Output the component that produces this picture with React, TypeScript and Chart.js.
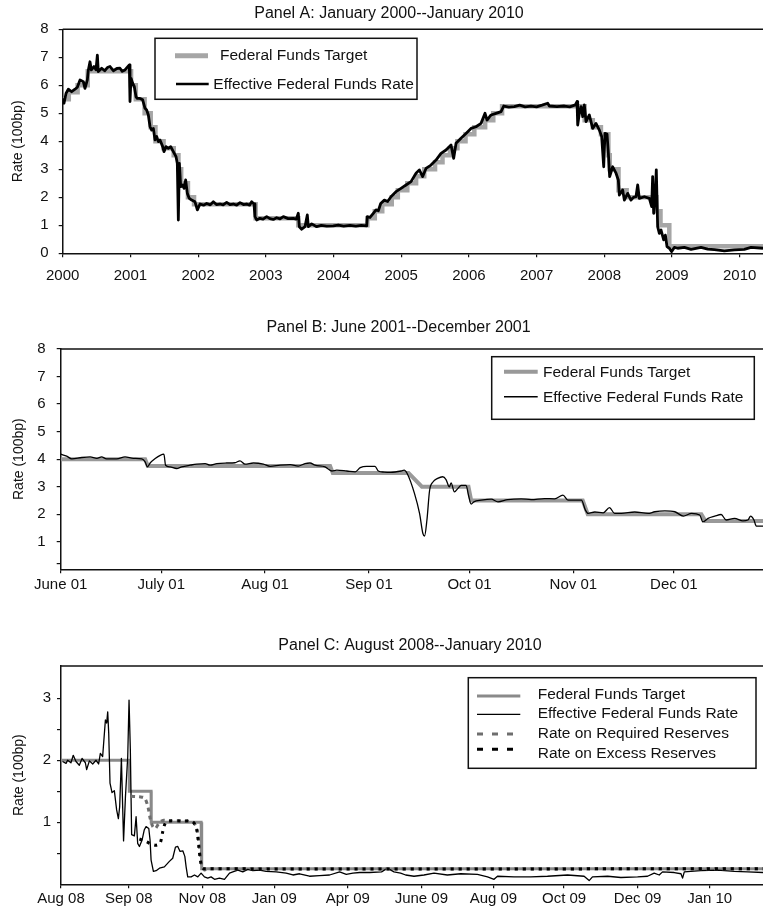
import React, { useEffect, useRef } from "react";
import { Chart, registerables } from "chart.js";

Chart.register(...registerables);

const FONT = '"Liberation Sans", Arial, Helvetica, sans-serif';
const INK = "#111111";

// ---------------- Panel A: January 2000 -- January 2010 (x in decimal years) ----------------
const yearTicksA = [2000, 2001, 2002, 2003, 2004, 2005, 2006, 2007, 2008, 2009, 2010];
const yearLabelsA = ["2000", "2001", "2002", "2003", "2004", "2005", "2006", "2007", "2008", "2009", "2010"];
const rateTicksA = [0, 1, 2, 3, 4, 5, 6, 7, 8];
const rateLabelsA = ["0", "1", "2", "3", "4", "5", "6", "7", "8"];

const targetDatesA = [
  2000.0, 2000.09, 2000.22, 2000.37, 2001.01, 2001.08, 2001.21, 2001.3, 2001.37, 2001.49,
  2001.64, 2001.71, 2001.75, 2001.85, 2001.94, 2002.85, 2003.48, 2004.5, 2004.61, 2004.72,
  2004.86, 2004.95, 2005.09, 2005.22, 2005.34, 2005.5, 2005.61, 2005.72, 2005.83, 2005.95,
  2006.08, 2006.24, 2006.36, 2006.49, 2007.71, 2007.83, 2007.95, 2008.06, 2008.08, 2008.21,
  2008.33, 2008.77, 2008.83, 2008.96, 2010.4,
];
const targetRatesA = [
  5.5, 5.75, 6.0, 6.5, 6.0, 5.5, 5.0, 4.5, 4.0, 3.75,
  3.5, 3.0, 2.5, 2.0, 1.75, 1.25, 1.0, 1.25, 1.5, 1.75,
  2.0, 2.25, 2.5, 2.75, 3.0, 3.25, 3.5, 3.75, 4.0, 4.25,
  4.5, 4.75, 5.0, 5.25, 4.75, 4.5, 4.25, 3.5, 3.0, 2.25,
  2.0, 1.5, 1.0, 0.25, 0.25,
];

const effectiveA: [number, number][] = [
  [2000.0, 5.53], [2000.019, 5.36], [2000.049, 5.71], [2000.083, 5.86], [2000.132, 5.77], [2000.182, 5.86],
  [2000.216, 5.93], [2000.256, 6.19], [2000.305, 6.13], [2000.329, 5.89], [2000.364, 6.19], [2000.379, 6.55],
  [2000.403, 6.84], [2000.423, 6.55], [2000.462, 6.67], [2000.492, 6.55], [2000.512, 7.08], [2000.526, 6.49],
  [2000.576, 6.61], [2000.62, 6.52], [2000.66, 6.63], [2000.699, 6.67], [2000.748, 6.52], [2000.8, 6.6],
  [2000.846, 6.61], [2000.88, 6.5], [2000.92, 6.55], [2000.984, 6.73], [2000.994, 5.42], [2001.009, 6.25],
  [2001.034, 6.07], [2001.058, 5.95], [2001.083, 5.59], [2001.102, 5.53], [2001.142, 5.53], [2001.181, 5.48],
  [2001.216, 5.18], [2001.24, 5.12], [2001.265, 4.94], [2001.29, 4.52], [2001.314, 4.4], [2001.339, 4.46],
  [2001.363, 4.05], [2001.388, 4.17], [2001.413, 3.99], [2001.437, 4.05], [2001.477, 3.81], [2001.496, 3.63],
  [2001.526, 3.81], [2001.56, 3.75], [2001.595, 3.81], [2001.634, 3.63], [2001.674, 3.45], [2001.693, 3.21],
  [2001.708, 1.19], [2001.723, 3.21], [2001.743, 2.38], [2001.772, 2.44], [2001.792, 2.32], [2001.816, 2.62],
  [2001.841, 2.14], [2001.87, 1.96], [2001.905, 1.9], [2001.954, 1.84], [2001.989, 1.55], [2002.028, 1.76],
  [2002.08, 1.72], [2002.127, 1.78], [2002.18, 1.73], [2002.225, 1.84], [2002.27, 1.74], [2002.323, 1.76],
  [2002.37, 1.73], [2002.422, 1.82], [2002.47, 1.74], [2002.52, 1.76], [2002.57, 1.72], [2002.619, 1.81],
  [2002.67, 1.74], [2002.717, 1.76], [2002.76, 1.72], [2002.791, 1.84], [2002.826, 1.76], [2002.84, 1.31],
  [2002.865, 1.19], [2002.914, 1.25], [2002.96, 1.22], [2003.013, 1.31], [2003.06, 1.24], [2003.111, 1.21],
  [2003.16, 1.27], [2003.21, 1.23], [2003.259, 1.31], [2003.33, 1.24], [2003.407, 1.25], [2003.45, 1.22],
  [2003.48, 1.43], [2003.495, 0.95], [2003.53, 0.86], [2003.579, 0.95], [2003.613, 1.37], [2003.628, 0.95],
  [2003.678, 1.05], [2003.751, 0.95], [2003.82, 1.0], [2003.9, 0.97], [2003.997, 0.98], [2004.07, 1.01],
  [2004.15, 0.97], [2004.244, 1.0], [2004.33, 0.97], [2004.41, 1.0], [2004.49, 0.98], [2004.5, 1.31],
  [2004.539, 1.28], [2004.588, 1.43], [2004.628, 1.55], [2004.662, 1.52], [2004.697, 1.78], [2004.751, 1.9],
  [2004.8, 1.85], [2004.849, 2.02], [2004.923, 2.2], [2004.997, 2.32], [2005.071, 2.44], [2005.145, 2.56],
  [2005.219, 2.86], [2005.268, 2.98], [2005.317, 2.74], [2005.366, 3.03], [2005.44, 3.15], [2005.514, 3.33],
  [2005.588, 3.57], [2005.662, 3.69], [2005.736, 3.87], [2005.775, 3.39], [2005.81, 3.93], [2005.883, 4.11],
  [2005.957, 4.28], [2006.031, 4.46], [2006.105, 4.52], [2006.179, 4.64], [2006.238, 5.0], [2006.268, 4.76],
  [2006.327, 4.94], [2006.401, 5.0], [2006.475, 5.06], [2006.514, 5.26], [2006.59, 5.22], [2006.671, 5.24],
  [2006.75, 5.29], [2006.83, 5.23], [2006.917, 5.26], [2007.0, 5.23], [2007.08, 5.29], [2007.164, 5.36],
  [2007.188, 5.26], [2007.3, 5.24], [2007.41, 5.26], [2007.49, 5.23], [2007.572, 5.3], [2007.597, 5.42],
  [2007.607, 4.58], [2007.631, 5.0], [2007.656, 5.24], [2007.681, 4.88], [2007.705, 5.3], [2007.73, 4.7],
  [2007.779, 4.94], [2007.828, 4.46], [2007.877, 4.64], [2007.927, 4.4], [2007.961, 4.17], [2007.991, 3.09],
  [2008.01, 4.28], [2008.04, 4.26], [2008.06, 3.57], [2008.079, 2.74], [2008.124, 3.09], [2008.173, 2.86],
  [2008.207, 2.62], [2008.222, 2.08], [2008.271, 2.26], [2008.296, 1.9], [2008.345, 2.14], [2008.394, 1.9],
  [2008.43, 2.0], [2008.468, 2.02], [2008.493, 2.44], [2008.517, 1.96], [2008.591, 2.02], [2008.665, 1.96],
  [2008.7, 1.67], [2008.714, 2.74], [2008.729, 1.43], [2008.749, 1.9], [2008.768, 2.98], [2008.788, 0.95],
  [2008.813, 0.71], [2008.838, 0.83], [2008.877, 0.48], [2008.902, 0.65], [2008.926, 0.24], [2008.961, 0.18],
  [2008.995, 0.06], [2009.034, 0.21], [2009.084, 0.18], [2009.182, 0.21], [2009.281, 0.14], [2009.428, 0.21],
  [2009.527, 0.15], [2009.625, 0.13], [2009.773, 0.09], [2009.921, 0.12], [2010.068, 0.14], [2010.167, 0.21],
  [2010.344, 0.18],
];

// ---------------- Panel B: June 2001 -- December 2001 (x in days since 1 June 2001) ----------------
const dayTicksB = [0, 30, 61, 92, 122, 153, 183];
const dayLabelsB = ["June 01", "July 01", "Aug 01", "Sep 01", "Oct 01", "Nov 01", "Dec 01"];
const rateTicksB = [0.2, 1, 2, 3, 4, 5, 6, 7, 8];
const rateLabelsB = ["", "1", "2", "3", "4", "5", "6", "7", "8"];

const targetB: [number, number][] = [
  [0, 4], [25.2, 4], [26.0, 3.75], [80.4, 3.75], [81.2, 3.5], [103.8, 3.5], [107.8, 3.0],
  [121.7, 3.0], [122.5, 2.5], [155.8, 2.5], [157.3, 2.0], [191.2, 2.0], [192.4, 1.75], [210, 1.75],
];

const effectiveB: [number, number][] = [
  [0, 4.18], [1.8, 4.11], [3.3, 4.01], [6.3, 4.06], [8.8, 4.08], [10.8, 4.03], [12.2, 4.08], [13.7, 4.01],
  [16.7, 4.01], [19.2, 4.08], [21.7, 4.03], [24.2, 4.01], [25.2, 3.9], [25.9, 3.72], [26.7, 3.86], [28.2, 4.02],
  [29.7, 4.14], [30.8, 4.18], [31.3, 3.78], [32.6, 3.72], [34.6, 3.66], [36.1, 3.72], [38.6, 3.78], [40.6, 3.82],
  [43.1, 3.84], [44.6, 3.78], [46.6, 3.84], [49.5, 3.86], [52, 3.87], [53.5, 3.94], [55, 3.82], [57.5, 3.86],
  [60.5, 3.82], [62.5, 3.74], [65.5, 3.78], [68.5, 3.8], [70.9, 3.75], [72.9, 3.84], [74.4, 3.86], [75.9, 3.78],
  [78.9, 3.72], [80.9, 3.57], [82.4, 3.6], [85.4, 3.57], [87.9, 3.54], [89.4, 3.69], [91.3, 3.74], [93.8, 3.74],
  [94.8, 3.57], [96.5, 3.53], [98.5, 3.52], [101.6, 3.57], [102.5, 3.6], [103.4, 3.48], [105.6, 2.75],
  [107.1, 2.03], [108.1, 1.3], [108.6, 1.21], [109.3, 1.79], [110.1, 2.87], [111.1, 3.17], [112.5, 3.3],
  [114, 3.36], [115, 3.26], [116, 2.99], [116.5, 3.14], [117.5, 2.81], [118.5, 2.93], [119.5, 3.05], [121, 3.05],
  [121.7, 2.69], [122.5, 2.37], [123.3, 2.45], [125.5, 2.51], [128.5, 2.55], [130.5, 2.45], [133.4, 2.53],
  [137.4, 2.56], [140.4, 2.53], [144.4, 2.57], [147.4, 2.56], [149.9, 2.69], [151.4, 2.51], [155.4, 2.51],
  [156.6, 2.15], [157.4, 2.03], [159.4, 2.08], [161.9, 2.05], [163.8, 2.24], [165.3, 2.03], [167.3, 2.03],
  [171.3, 2.08], [175.3, 2.03], [177.3, 2.09], [180.3, 2.12], [183.3, 2.09], [185.8, 1.93], [188.3, 2.03],
  [190.7, 1.97], [191.7, 1.72], [193.2, 1.85], [195.2, 1.93], [197.1, 1.99], [198.6, 1.79], [201.1, 1.85],
  [203.6, 1.76], [205.1, 1.79], [205.9, 1.93], [206.9, 1.79], [207.6, 1.57], [209.7, 1.57],
];

// ---------------- Panel C: August 2008 -- January 2010 (x in observation index) ----------------
const obsTicksC = [0, 47, 98, 148, 199, 250, 300, 349, 400, 450];
const obsLabelsC = ["Aug 08", "Sep 08", "Nov 08", "Jan 09", "Apr 09", "June 09", "Aug 09", "Oct 09", "Dec 09", "Jan 10"];
const rateTicksC = [0.5, 1, 1.5, 2, 2.5, 3];
const rateLabelsC = ["", "1", "", "2", "", "3"];

const targetC: [number, number][] = [
  [0, 2], [47.3, 2], [47.4, 1.5], [62.5, 1.5], [62.6, 1.0], [97.2, 1.0], [97.6, 0.25], [487, 0.25],
];

const requiredC: [number, number][] = [
  [48.6, 1.42], [54.4, 1.41], [58, 1.39], [60.3, 1.25], [61.9, 1.06], [63.7, 0.93], [65.5, 0.9], [67.8, 0.98],
  [70.6, 1.03], [75.2, 1.02], [84.5, 1.02], [91.4, 1.0], [93.7, 0.93], [95.4, 0.71], [96.7, 0.45], [97.9, 0.28],
  [99.5, 0.23], [101.8, 0.25], [487, 0.25],
];

const excessC: [number, number][] = [
  [54.4, 0.73], [59, 0.69], [62.5, 0.65], [65.9, 0.63], [68.7, 0.66], [70.6, 0.85], [72.2, 0.98], [74.1, 1.02],
  [84.5, 1.02], [91.4, 1.01], [94.2, 0.88], [95.6, 0.61], [96.7, 0.39], [97.9, 0.27], [99.5, 0.25], [487, 0.25],
];

const effectiveC: [number, number][] = [
  [1.1, 1.98], [3.5, 1.95], [4.6, 2.0], [6.9, 1.96], [8.5, 2.08], [10.4, 1.98], [12.7, 1.92], [14.6, 2.03],
  [16.9, 1.96], [17.8, 1.85], [19.7, 1.99], [22, 1.94], [24.3, 2.0], [26.1, 1.94], [27.3, 2.11], [28.9, 2.06],
  [30.8, 2.65], [31.7, 2.6], [32.4, 2.78], [33.1, 2.44], [34, 1.63], [35.4, 1.48], [37, 1.51], [38.6, 1.2],
  [39.8, 1.06], [40.7, 1.25], [41.9, 2.03], [43.4, 0.7], [44.7, 1.41], [46.3, 2.06], [47.2, 2.97], [48.1, 2.17],
  [49, 0.8], [50.9, 0.78], [52.1, 1.09], [53.2, 0.66], [54.4, 0.61], [56.2, 0.71], [57.8, 0.88], [59, 0.93],
  [60.9, 0.9], [61.8, 0.71], [62.5, 0.39], [64.1, 0.21], [66, 0.22], [68.3, 0.26], [71.7, 0.28], [75.2, 0.37],
  [77.5, 0.42], [79.4, 0.6], [81, 0.61], [82.6, 0.53], [84.5, 0.54], [85.9, 0.45], [86.8, 0.28], [87.9, 0.12],
  [90.3, 0.12], [92.6, 0.15], [94.9, 0.12], [97.2, 0.18], [99.5, 0.12], [101.8, 0.1], [104.1, 0.12],
  [106.5, 0.08], [109.9, 0.1], [113.4, 0.08], [116.9, 0.18], [119.2, 0.2], [122.7, 0.23], [126.1, 0.2],
  [129.6, 0.24], [133.1, 0.22], [137.7, 0.23], [142.3, 0.21], [149.3, 0.2], [156.2, 0.18], [160.9, 0.15],
  [165.5, 0.17], [172.4, 0.13], [179.4, 0.14], [186.3, 0.15], [193.3, 0.2], [197.9, 0.16], [202.5, 0.18],
  [207.2, 0.19], [214.1, 0.19], [222.4, 0.2], [226.4, 0.26], [231, 0.2], [235.6, 0.18], [239.1, 0.15],
  [244.9, 0.13], [251.8, 0.15], [258.8, 0.18], [268, 0.15], [277.3, 0.17], [288.9, 0.16], [295.9, 0.12],
  [300.4, 0.08], [302.8, 0.13], [314.3, 0.12], [325.9, 0.12], [337.5, 0.13], [351.4, 0.15], [362.9, 0.13],
  [366.4, 0.06], [368.7, 0.12], [379.2, 0.13], [388.4, 0.11], [400, 0.12], [406.9, 0.13], [411.5, 0.18],
  [415, 0.15], [417.3, 0.2], [425.4, 0.19], [430.1, 0.17], [431.2, 0.1], [432.4, 0.2], [443.9, 0.22],
  [455.5, 0.23], [467.1, 0.21], [476.4, 0.2], [487, 0.19],
];

// ---------------- helpers ----------------
const pts = (arr: [number, number][]) => arr.map(([x, y]) => ({ x, y }));
const stepPts = (xs: number[], ys: number[]) => xs.map((x, i) => ({ x, y: ys[i] }));

type LegendItem = { ds: number; x1: number; x2: number; y: number; tx: number; ty: number; width?: number; dash?: number[] };
type PanelSpec = {
  top: number;
  height: number;
  title: string;
  titleX: number;
  titleY: number;
  left: number;
  areaTop: number;
  areaBottom: number;
  xMin: number;
  xMax: number;
  xTicks: number[];
  xLabels: string[];
  xPad: number;
  yMin: number;
  yMax: number;
  yTicks: number[];
  yLabels: string[];
  yPad: number;
  yTitlePad: number;
  datasets: any[];
  legendBox: [number, number, number, number];
  legendItems: LegendItem[];
};

function makeConfig(spec: PanelSpec): any {
  const overlay = {
    id: "panelOverlay",
    afterDraw(chart: any) {
      const ctx = chart.ctx as CanvasRenderingContext2D;
      const a = chart.chartArea;
      ctx.save();
      // top frame line
      ctx.strokeStyle = INK;
      ctx.lineWidth = 1.5;
      ctx.beginPath();
      ctx.moveTo(a.left, a.top);
      ctx.lineTo(a.right, a.top);
      ctx.stroke();
      // panel title
      ctx.fillStyle = INK;
      ctx.font = `16px ${FONT}`;
      ctx.textAlign = "center";
      ctx.textBaseline = "middle";
      ctx.fillText(spec.title, spec.titleX, spec.titleY);
      // legend
      const [bx1, by1, bx2, by2] = spec.legendBox;
      ctx.fillStyle = "#ffffff";
      ctx.fillRect(bx1, by1, bx2 - bx1, by2 - by1);
      ctx.strokeStyle = INK;
      ctx.lineWidth = 1.5;
      ctx.strokeRect(bx1, by1, bx2 - bx1, by2 - by1);
      ctx.font = `15.5px ${FONT}`;
      ctx.textAlign = "left";
      ctx.textBaseline = "middle";
      for (const it of spec.legendItems) {
        const ds = chart.data.datasets[it.ds];
        ctx.save();
        ctx.strokeStyle = ds.borderColor;
        ctx.lineWidth = it.width ?? ds.borderWidth;
        ctx.setLineDash(it.dash ?? []);
        ctx.lineCap = "butt";
        ctx.beginPath();
        ctx.moveTo(it.x1, it.y);
        ctx.lineTo(it.x2, it.y);
        ctx.stroke();
        ctx.restore();
        ctx.fillStyle = INK;
        ctx.fillText(ds.label, it.tx, it.ty);
      }
      ctx.restore();
    },
  };

  const tickFont = { family: FONT, size: 15 };
  return {
    type: "line",
    data: { datasets: spec.datasets },
    options: {
      responsive: false,
      maintainAspectRatio: false,
      animation: false,
      events: [],
      layout: { padding: { top: spec.areaTop, left: 0, right: 0, bottom: 0 } },
      elements: { point: { radius: 0, hoverRadius: 0 } },
      plugins: { legend: { display: false }, tooltip: { enabled: false }, title: { display: false } },
      scales: {
        x: {
          type: "linear",
          min: spec.xMin,
          max: spec.xMax,
          afterBuildTicks: (s: any) => {
            s.ticks = spec.xTicks.map((v) => ({ value: v }));
          },
          afterFit: (s: any) => {
            s.height = spec.height - spec.areaBottom;
            s.paddingLeft = 0;
            s.paddingRight = 0;
          },
          ticks: {
            autoSkip: false,
            maxRotation: 0,
            minRotation: 0,
            padding: spec.xPad,
            color: INK,
            font: tickFont,
            callback: (_v: number, i: number) => spec.xLabels[i] ?? "",
          },
          grid: { drawOnChartArea: false, drawTicks: true, tickLength: 4, color: INK, lineWidth: 1.2 },
          border: { display: true, color: INK, width: 1.5 },
        },
        y: {
          type: "linear",
          min: spec.yMin,
          max: spec.yMax,
          afterBuildTicks: (s: any) => {
            s.ticks = spec.yTicks.map((v) => ({ value: v }));
          },
          afterFit: (s: any) => {
            s.width = spec.left;
            s.paddingTop = 0;
            s.paddingBottom = 0;
          },
          ticks: {
            padding: spec.yPad,
            color: INK,
            font: tickFont,
            callback: (_v: number, i: number) => spec.yLabels[i] ?? "",
          },
          title: {
            display: true,
            text: "Rate (100bp)",
            color: INK,
            font: { family: FONT, size: 14 },
            padding: { top: spec.yTitlePad, bottom: 0 },
          },
          grid: { drawOnChartArea: false, drawTicks: true, tickLength: 4, color: INK, lineWidth: 1.2 },
          border: { display: true, color: INK, width: 1.5 },
        },
      },
    },
    plugins: [overlay],
  };
}

const specA: PanelSpec = {
  top: 0,
  height: 300,
  title: "Panel A: January 2000--January 2010",
  titleX: 389,
  titleY: 13.5,
  left: 62.7,
  areaTop: 29.3,
  areaBottom: 253.3,
  xMin: 2000,
  xMax: 2010.344,
  xTicks: yearTicksA,
  xLabels: yearLabelsA,
  xPad: 10,
  yMin: 0,
  yMax: 8,
  yTicks: rateTicksA,
  yLabels: rateLabelsA,
  yPad: 10,
  yTitlePad: 10,
  datasets: [
    {
      label: "Federal Funds Target",
      data: stepPts(targetDatesA, targetRatesA),
      borderColor: "#a6a6a6",
      borderWidth: 4.5,
      stepped: "before",
      order: 2,
    },
    {
      label: "Effective Federal Funds Rate",
      data: pts(effectiveA),
      borderColor: "#000000",
      borderWidth: 2.8,
      borderJoinStyle: "round",
      tension: 0,
      order: 1,
    },
  ],
  legendBox: [155, 38.3, 417, 99.3],
  legendItems: [
    { ds: 0, x1: 175, x2: 208, y: 55.7, tx: 220, ty: 56, width: 5 },
    { ds: 1, x1: 176, x2: 208.7, y: 84, tx: 213.3, ty: 84.5, width: 2.5 },
  ],
};

const specB: PanelSpec = {
  top: 300,
  height: 310,
  title: "Panel B: June 2001--December 2001",
  titleX: 398.5,
  titleY: 28,
  left: 60.7,
  areaTop: 49,
  areaBottom: 269.3,
  xMin: 0,
  xMax: 209.6,
  xTicks: dayTicksB,
  xLabels: dayLabelsB,
  xPad: 3,
  yMin: 0,
  yMax: 8,
  yTicks: rateTicksB,
  yLabels: rateLabelsB,
  yPad: 11,
  yTitlePad: 11,
  datasets: [
    {
      label: "Federal Funds Target",
      data: pts(targetB),
      borderColor: "#999999",
      borderWidth: 4,
      order: 2,
    },
    {
      label: "Effective Federal Funds Rate",
      data: pts(effectiveB),
      borderColor: "#000000",
      borderWidth: 1.3,
      cubicInterpolationMode: "monotone",
      order: 1,
    },
  ],
  legendBox: [491.7, 56.7, 754.3, 119.3],
  legendItems: [
    { ds: 0, x1: 504, x2: 537.7, y: 71.7, tx: 543, ty: 72.5 },
    { ds: 1, x1: 504, x2: 537.7, y: 96.7, tx: 543, ty: 97.5, width: 1.6 },
  ],
};

const specC: PanelSpec = {
  top: 610,
  height: 299,
  title: "Panel C: August 2008--January 2010",
  titleX: 410,
  titleY: 36,
  left: 61,
  areaTop: 56,
  areaBottom: 274.3,
  xMin: 0,
  xMax: 487,
  xTicks: obsTicksC,
  xLabels: obsLabelsC,
  xPad: 2,
  yMin: 0,
  yMax: 3.52,
  yTicks: rateTicksC,
  yLabels: rateLabelsC,
  yPad: 6,
  yTitlePad: 11,
  datasets: [
    {
      label: "Federal Funds Target",
      data: pts(targetC),
      borderColor: "#8a8a8a",
      borderWidth: 3,
      order: 4,
    },
    {
      label: "Effective Federal Funds Rate",
      data: pts(effectiveC),
      borderColor: "#000000",
      borderWidth: 1.3,
      borderJoinStyle: "round",
      order: 3,
    },
    {
      label: "Rate on Required Reserves",
      data: pts(requiredC),
      borderColor: "#6e6e6e",
      borderWidth: 3,
      borderDash: [4, 4],
      tension: 0.3,
      order: 2,
    },
    {
      label: "Rate on Excess Reserves",
      data: pts(excessC),
      borderColor: "#000000",
      borderWidth: 3,
      borderDash: [3, 5],
      tension: 0.3,
      order: 1,
    },
  ],
  legendBox: [468.3, 67.7, 756, 158.3],
  legendItems: [
    { ds: 0, x1: 477, x2: 520.3, y: 86, tx: 537.7, ty: 85 },
    { ds: 1, x1: 477, x2: 520.3, y: 104.3, tx: 537.7, ty: 104 },
    { ds: 2, x1: 477, x2: 520.3, y: 124, tx: 537.7, ty: 123.5, dash: [6, 9] },
    { ds: 3, x1: 477, x2: 520.3, y: 139.3, tx: 537.7, ty: 144, dash: [6, 9] },
  ],
};

function Panel({ spec }: { spec: PanelSpec }) {
  const ref = useRef<HTMLCanvasElement | null>(null);
  useEffect(() => {
    if (!ref.current) return;
    const chart = new Chart(ref.current, makeConfig(spec));
    return () => chart.destroy();
  }, [spec]);
  return (
    <canvas
      ref={ref}
      width={763}
      height={spec.height}
      style={{ position: "absolute", left: 0, top: spec.top, width: 763, height: spec.height, display: "block" }}
    />
  );
}

export default function App() {
  return (
    <div style={{ position: "absolute", left: 0, top: 0, width: 763, height: 909, background: "#ffffff", overflow: "hidden" }}>
      <Panel spec={specA} />
      <Panel spec={specB} />
      <Panel spec={specC} />
    </div>
  );
}
